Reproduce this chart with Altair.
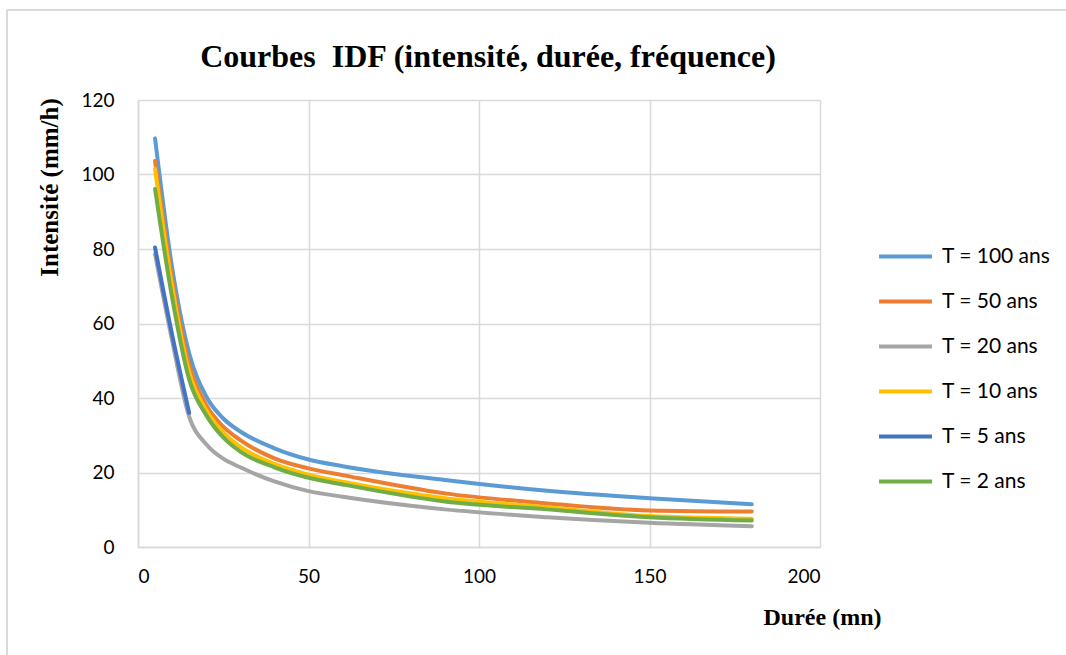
import altair as alt
import pandas as pd

# ---- data ----
durations = [5, 10, 15, 20, 25, 30, 40, 50, 60, 90, 120, 150, 180]
durations_t5 = [5, 10, 15]

series_names = ["T = 100 ans", "T = 50 ans", "T = 20 ans", "T = 10 ans", "T = 5 ans", "T = 2 ans"]
series_colors = ["#5B9BD5", "#ED7D31", "#A5A5A5", "#FFC000", "#4472C4", "#70AD47"]

i_t100 = [109.7, 75.0, 52.0, 40.4, 34.5, 31.0, 26.5, 23.5, 21.7, 18.0, 15.1, 13.1, 11.5]
i_t50 = [103.6, 72.0, 49.0, 38.1, 32.3, 28.7, 23.8, 21.1, 19.3, 14.4, 11.7, 9.8, 9.5]
i_t20 = [78.6, 55.5, 35.0, 27.6, 23.7, 21.4, 17.6, 15.0, 13.5, 10.1, 8.0, 6.5, 5.6]
i_t10 = [101.5, 70.0, 47.0, 36.8, 30.8, 26.9, 22.3, 19.4, 17.5, 13.1, 10.7, 8.3, 7.6]
i_t5 = [80.4, 57.0, 36.0]
i_t2 = [96.1, 67.0, 45.0, 35.4, 29.4, 25.6, 21.4, 18.6, 16.8, 12.2, 10.1, 8.0, 7.1]

x_ticks = [0, 50, 100, 150, 200]
y_ticks = [0, 20, 40, 60, 80, 100, 120]

chart_title = "Courbes \u00a0IDF (intensité, durée, fréquence)"

series_x = [durations, durations, durations, durations, durations_t5, durations]
series_y = [i_t100, i_t50, i_t20, i_t10, i_t5, i_t2]

rows = []
for k, (name, xs, ys) in enumerate(zip(series_names, series_x, series_y)):
    for x, y in zip(xs, ys):
        rows.append({"serie": name, "duree": x, "intensite": y, "k": k})
df = pd.DataFrame(rows)

GRID = "#d9d9d9"

lines = alt.Chart(df).mark_line(
    interpolate="monotone", strokeWidth=4, strokeCap="round"
).encode(
    x=alt.X(
        "duree:Q",
        scale=alt.Scale(domain=[0, 200], nice=False),
        axis=alt.Axis(
            values=x_ticks,
            title="Durée (mn)",
            titleX=684,
            titleY=70,
            titleAlign="center",
            titleBaseline="middle",
            titleFont="Liberation Serif",
            titleFontWeight="bold",
            titleFontSize=24,
            titleColor="black",
            labelFont="Lato",
            labelFontSize=19,
            labelColor="black",
            labelPadding=20,
            ticks=False,
            tickSize=0,
            domainColor=GRID,
            domainWidth=1.5,
            gridColor=GRID,
            gridWidth=1.5,
        ),
    ),
    y=alt.Y(
        "intensite:Q",
        scale=alt.Scale(domain=[0, 120], nice=False),
        axis=alt.Axis(
            values=y_ticks,
            title="Intensité (mm/h)",
            titleX=-89,
            titleY=87,
            titleAngle=270,
            titleAlign="center",
            titleBaseline="middle",
            titleFont="Liberation Serif",
            titleFontWeight="bold",
            titleFontSize=25,
            titleColor="black",
            labelFont="Lato",
            labelFontSize=19,
            labelColor="black",
            labelPadding=24,
            ticks=False,
            tickSize=0,
            domainColor=GRID,
            domainWidth=1.5,
            gridColor=GRID,
            gridWidth=1.5,
        ),
    ),
    color=alt.Color(
        "serie:N",
        scale=alt.Scale(domain=series_names, range=series_colors),
        legend=alt.Legend(
            title=None,
            orient="none",
            legendX=739,
            legendY=128,
            symbolType="stroke",
            symbolSize=2800,
            symbolStrokeWidth=4,
            labelFont="Lato",
            labelFontSize=21,
            labelColor="black",
            labelOffset=8,
            rowPadding=6,
        ),
    ),
    detail="k:N",
)

one_row = alt.Data(values=[{"a": 1}])
frame_top = alt.Chart(one_row).mark_rule(color=GRID, strokeWidth=2).encode(
    x=alt.value(-131), x2=alt.value(928), y=alt.value(-90)
)
frame_left = alt.Chart(one_row).mark_rule(color=GRID, strokeWidth=2).encode(
    x=alt.value(-131), y=alt.value(-90), y2=alt.value(555)
)
title_text = alt.Chart(one_row).mark_text(
    font="Liberation Serif",
    fontSize=32,
    fontWeight="bold",
    color="black",
    align="center",
    baseline="middle",
).encode(
    x=alt.value(350), y=alt.value(-43), text=alt.value(chart_title)
)

chart = alt.layer(frame_top, frame_left, title_text, lines).properties(
    width=682,
    height=447,
    autosize="none",
    padding={"left": 138, "top": 100, "right": 246, "bottom": 108},
).configure_view(stroke=None).configure(background="white")

chart.save("out.html", embed_options={"renderer": "svg", "actions": False})
